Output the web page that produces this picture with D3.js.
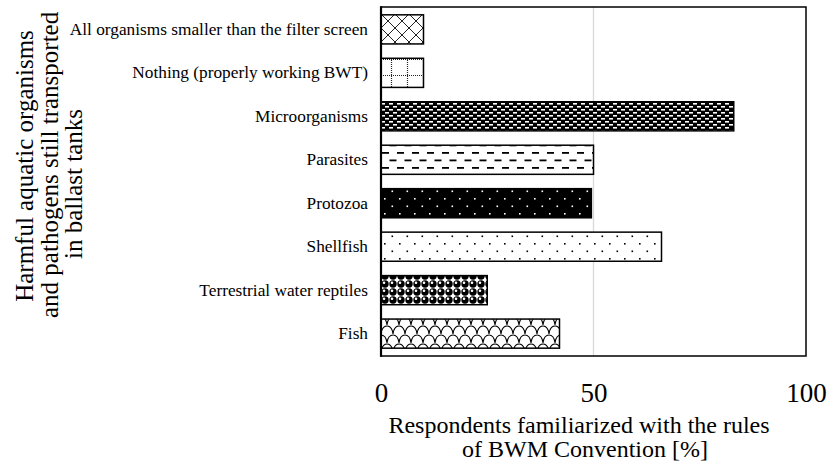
<!DOCTYPE html>
<html><head><meta charset="utf-8">
<script src="https://cdn.jsdelivr.net/npm/d3@7"></script>
<style>
html,body{margin:0;padding:0;background:#fff;}
svg{display:block;font-family:"Liberation Serif","Times New Roman",serif;}
</style></head>
<body>
<svg id="chart" width="832" height="466"></svg>
<script>
// ---- data ----
const categories = ["Fish","Terrestrial water reptiles","Shellfish","Protozoa","Parasites","Microorganisms","Nothing (properly working BWT)","All organisms smaller than the filter screen"];
const values = [42, 25, 66, 49.5, 50, 83, 10, 10];
const xTicks = [0, 50, 100];
const xTitle = ["Respondents familiarized with the rules", "of BWM Convention [%]"];
const yTitle = ["Harmful aquatic organisms", "and pathogens still transported", "in ballast tanks"];

// ---- layout ----
const FONT = "Liberation Serif, Times New Roman, serif";
const svg = d3.select("#chart");
const L = 381, R = 806, T = 7, B = 356;
const x = d3.scaleLinear().domain([0, 100]).range([L, R]);
const y = d3.scaleBand().domain(categories.slice().reverse()).range([T, B]).paddingInner(0.33).paddingOuter(0.18);

// ---- patterns ----
const defs = svg.append("defs");
function pat(id, w, h, bg) {
  const p = defs.append("pattern").attr("id", id).attr("patternUnits", "userSpaceOnUse")
    .attr("x", L).attr("y", 0).attr("width", w).attr("height", h);
  p.append("rect").attr("width", w).attr("height", h).attr("fill", bg);
  return p;
}
// diagonal cross
let p = pat("pDiag", 14, 14, "#fff");
p.append("path").attr("d", "M0,0L14,14M14,0L0,14").attr("stroke", "#222").attr("stroke-width", 1).attr("fill", "none");
// dotted grid
p = pat("pGrid", 16, 16, "#fff");
p.append("path").attr("d", "M0,11.5H16").attr("stroke", "#222").attr("stroke-width", 1.2).attr("stroke-dasharray", "1,1");
p.append("path").attr("d", "M10.5,0V16").attr("stroke", "#222").attr("stroke-width", 1.2).attr("stroke-dasharray", "1,1");
// black with white dashes (dense)
p = pat("pMicro", 8, 6, "#000");
p.append("rect").attr("x", 0).attr("y", 1).attr("width", 4).attr("height", 1.6).attr("fill", "#fff");
p.append("rect").attr("x", 4).attr("y", 4).attr("width", 4).attr("height", 1.6).attr("fill", "#fff");
// dashed horizontal
p = pat("pDash", 15, 15, "#fff");
p.append("rect").attr("x", 1).attr("y", 2).attr("width", 7).attr("height", 1.8).attr("fill", "#000");
p.append("rect").attr("x", 8.5).attr("y", 9.5).attr("width", 7).attr("height", 1.8).attr("fill", "#000");
p.append("rect").attr("x", -6.5).attr("y", 9.5).attr("width", 7).attr("height", 1.8).attr("fill", "#000");
// black with white dots
p = pat("pBlackDots", 15, 15, "#000");
p.append("rect").attr("x", 3).attr("y", 3).attr("width", 1.6).attr("height", 1.6).attr("fill", "#fff");
p.append("rect").attr("x", 10.5).attr("y", 10.5).attr("width", 1.6).attr("height", 1.6).attr("fill", "#fff");
// white with black dots
p = pat("pWhiteDots", 15, 15, "#fff");
p.append("rect").attr("x", 3).attr("y", 3).attr("width", 1.6).attr("height", 1.6).attr("fill", "#000");
p.append("rect").attr("x", 10.5).attr("y", 10.5).attr("width", 1.6).attr("height", 1.6).attr("fill", "#000");
// spheres
p = pat("pSphere", 8, 8, "#fff");
p.append("circle").attr("cx", 4).attr("cy", 4).attr("r", 3.7).attr("fill", "#000");
p.append("circle").attr("cx", 3).attr("cy", 2.8).attr("r", 1.3).attr("fill", "#fff");
// scales
p = pat("pScale", 12, 18, "#fff");
p.append("path").attr("d", "M0,10 Q1,2 6,2 Q11,2 12,10 M-6,19 Q-5,11 0,11 Q5,11 6,19 M6,19 Q7,11 12,11 Q17,11 18,19 M-6,1 Q-5,-7 0,-7 Q5,-7 6,1 M6,1 Q7,-7 12,-7 Q17,-7 18,1")
  .attr("stroke", "#000").attr("stroke-width", 1.1).attr("fill", "none");

const fillFor = {
  "Fish": "pScale",
  "Terrestrial water reptiles": "pSphere",
  "Shellfish": "pWhiteDots",
  "Protozoa": "pBlackDots",
  "Parasites": "pDash",
  "Microorganisms": "pMicro",
  "Nothing (properly working BWT)": "pGrid",
  "All organisms smaller than the filter screen": "pDiag"
};

// ---- gridline ----
svg.append("g").selectAll("line").data(xTicks.filter(d => d > 0 && d < 100)).join("line")
  .attr("x1", d => x(d)).attr("x2", d => x(d)).attr("y1", T).attr("y2", B)
  .attr("stroke", "#d9d9d9").attr("stroke-width", 1.3);

// ---- bars ----
svg.append("g").selectAll("rect").data(categories).join("rect")
  .attr("x", x(0))
  .attr("y", d => y(d))
  .attr("width", (d, i) => x(values[i]) - x(0))
  .attr("height", y.bandwidth())
  .attr("fill", d => `url(#${fillFor[d]})`)
  .attr("stroke", "#000").attr("stroke-width", 1.5);

// ---- frame ----
svg.append("rect").attr("x", L).attr("y", T).attr("width", R - L).attr("height", B - T)
  .attr("fill", "none").attr("stroke", "#000").attr("stroke-width", 1.5);
svg.append("line").attr("x1", L).attr("x2", L).attr("y1", T - 0.75).attr("y2", B + 0.75)
  .attr("stroke", "#000").attr("stroke-width", 2.2);

// ---- y category labels ----
const yAxis = d3.axisLeft(y).tickSize(0).tickPadding(13);
const yg = svg.append("g").attr("transform", `translate(${L},0)`).call(yAxis);
yg.attr("font-family", FONT);
yg.select(".domain").remove();
yg.selectAll("text").attr("font-size", 17.3).attr("font-family", FONT).attr("fill", "#000");

// ---- x tick labels ----
const xAxis = d3.axisBottom(x).tickValues(xTicks).tickSize(0).tickPadding(0);
const xg = svg.append("g").attr("transform", `translate(0,${B})`).call(xAxis);
xg.attr("font-family", FONT);
xg.select(".domain").remove();
xg.selectAll("text").attr("font-size", 27).attr("font-family", FONT).attr("fill", "#000")
  .attr("dy", null).attr("y", 46);

// ---- axis titles ----
const xTitleX = [579, 585];
svg.append("g").selectAll("text").data(xTitle).join("text")
  .attr("x", (d, i) => xTitleX[i]).attr("y", (d, i) => 433 + i * 24)
  .attr("text-anchor", "middle").attr("font-size", 24).attr("font-family", FONT).attr("fill", "#000").text(d => d);

const yTitleAnchor = [["middle", 166], ["start", 318], ["middle", 184]];
svg.append("g").selectAll("text").data(yTitle).join("text")
  .attr("transform", (d, i) => `translate(${33 + i * 24.5},${yTitleAnchor[i][1]}) rotate(-90)`)
  .attr("text-anchor", (d, i) => yTitleAnchor[i][0])
  .attr("font-size", 25).attr("font-family", FONT).attr("fill", "#000").text(d => d);
</script>
</body></html>
